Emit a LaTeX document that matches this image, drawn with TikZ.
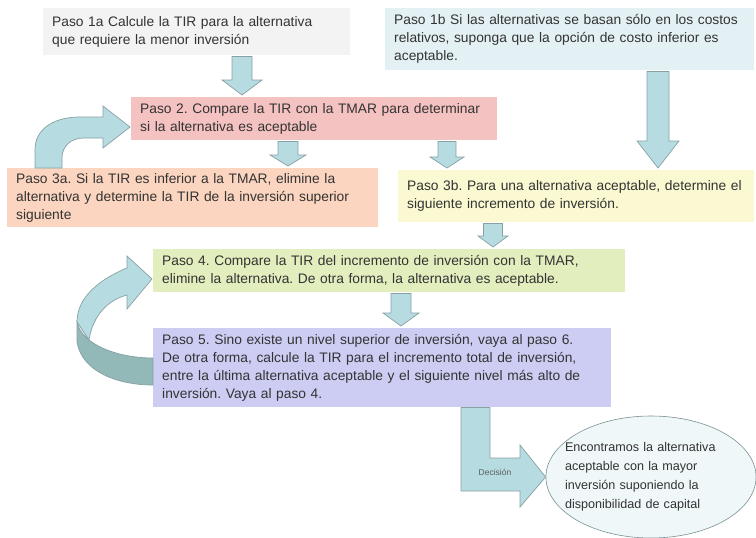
\documentclass[tikz,border=0pt]{standalone}
\usepackage{fontspec}
\setmainfont{Liberation Sans}
\usetikzlibrary{calc,shapes.geometric}
\definecolor{PasoGray}{HTML}{F3F3F3}
\definecolor{PasoBlue}{HTML}{E4F1F4}
\definecolor{PasoPink}{HTML}{F5C2C2}
\definecolor{PasoPeach}{HTML}{FBD5BF}
\definecolor{PasoYellow}{HTML}{FAF9D2}
\definecolor{PasoGreen}{HTML}{E3EEBF}
\definecolor{PasoLilac}{HTML}{CDCDF4}
\definecolor{ArrowFill}{HTML}{B6DCE1}
\definecolor{ArrowLine}{HTML}{86A0A3}
\definecolor{ArrowDark}{HTML}{92B8B8}
\definecolor{TextDark}{HTML}{333333}
\frenchspacing

% block arrow pointing down: x, from, to, half shaft, half head, head length
\newcommand\downblock[6]{%
  \path[blockarrow] let \p1=(#2), \p2=(#3) in
    (#1pt-#4pt,\y1-1pt) -- (#1pt+#4pt,\y1-1pt) -- (#1pt+#4pt,\y2+#6pt+2pt)
    -- (#1pt+#5pt,\y2+#6pt+2pt) -- (#1pt,\y2+2pt) -- (#1pt-#5pt,\y2+#6pt+2pt)
    -- (#1pt-#4pt,\y2+#6pt+2pt) -- cycle;}

\begin{document}
\begin{tikzpicture}[
    x=1pt, y=-1pt,
    stepbox/.style={anchor=north west, inner xsep=9pt, inner ysep=0pt,
                    align=left, text=TextDark,
                    font=\fontsize{13.8}{18}\selectfont},
    resultnode/.style={ellipse, draw=ArrowLine!90!black, fill=PasoBlue!70!ArrowFill!40,
                    line width=0.6pt, minimum width=210pt, minimum height=122pt,
                    inner xsep=-11.7pt, inner ysep=0pt, text width=172pt,
                    align=left, text=TextDark,
                    font=\fontsize{12.6}{19}\selectfont},
    blockarrow/.style={fill=ArrowFill, draw=ArrowLine, line width=0.7pt},
    blockdark/.style={fill=ArrowDark, draw=ArrowLine, line width=0.7pt}
]
\useasboundingbox (0,0) rectangle (756,538);

\node[stepbox, fill=PasoGray, text width=289pt, minimum height=47pt] (s1a) at (43,8)
  {Paso 1a Calcule la TIR para la alternativa\\que requiere la menor inversión};
\node[stepbox, fill=PasoBlue, text width=351pt, minimum height=62pt] (s1b) at (385,8)
  {Paso 1b Si las alternativas se basan sólo en los costos\\relativos, suponga que la opción de costo inferior es\\aceptable.};
\node[stepbox, fill=PasoPink, text width=348pt, minimum height=43pt] (s2) at (131,97)
  {Paso 2. Compare la TIR con la TMAR para determinar\\si la alternativa es aceptable};
\node[stepbox, fill=PasoPeach, text width=353pt, minimum height=59pt] (s3a) at (7,168)
  {Paso 3a. Si la TIR es inferior a la TMAR, elimine la\\alternativa y determine la TIR de la inversión superior\\siguiente};
\node[stepbox, fill=PasoYellow, text width=338pt, minimum height=52pt] (s3b) at (398,170)
  {Paso 3b. Para una alternativa aceptable, determine el\\siguiente incremento de inversión.};
\node[stepbox, fill=PasoGreen, text width=454pt, minimum height=43pt] (s4) at (153,249)
  {Paso 4. Compare la TIR del incremento de inversión con la TMAR,\\elimine la alternativa. De otra forma, la alternativa es aceptable.};
\node[stepbox, fill=PasoLilac, text width=440pt, minimum height=79pt] (s5) at (153,328)
  {Paso 5. Sino existe un nivel superior de inversión, vaya al paso 6.\\De otra forma, calcule la TIR para el incremento total de inversión,\\entre la última alternativa aceptable y el siguiente nivel más alto de\\inversión. Vaya al paso 4.};
\node[resultnode] (res) at (651,477)
  {Encontramos la alternativa\\aceptable con la mayor\\inversión suponiendo la\\disponibilidad de capital};

% straight block arrows
\downblock{242}{s1a.south}{s2.north}{10}{20}{15}
\downblock{288}{s2.south}{s3a.north}{10}{18}{11}
\downblock{447}{s2.south}{s3b.north}{9}{17}{11}
\downblock{658}{s1b.south}{s3b.north}{11}{21}{27}
\downblock{493}{s3b.south}{s4.north}{9.5}{15}{11}
\downblock{401}{s4.south}{s5.north}{10}{18}{13}

% back to paso 2
\path[blockarrow] (35,168) -- (35,150) .. controls (35,128) and (55,117) .. (80,117)
  -- (103,117) -- (103,106) -- (130,127) -- (103,148) -- (103,138) -- (84,138)
  .. controls (71,138) and (62,146) .. (62,158) -- (62,168) -- cycle;

% back to paso 4
\path[blockdark] (153,358) .. controls (118,358) and (82,345) .. (77,322)
  -- (77,342) .. controls (82,372) and (118,385) .. (153,385) -- cycle;
\path[blockarrow] (77,322) .. controls (77,298) and (98,280) .. (127,268)
  -- (127,256) -- (152,279) -- (127,309) -- (127,295)
  .. controls (108,300) and (93,315) .. (89,340) -- cycle;

% decision
\path[blockarrow] let \p1=(s5.south), \p2=(res.west) in
  (461pt,\y1) -- (490pt,\y1) -- (490pt,\y2+19pt) -- (520pt,\y2+19pt)
  -- (520pt,\y2+32pt) -- (\x2,\y2) -- (520pt,\y2-30pt) -- (520pt,\y2-14pt)
  -- (461pt,\y2-14pt) -- cycle;
\node[font=\fontsize{8.5}{10}\selectfont, text=TextDark!80] (dec) at (495,472) {Decisión};
\end{tikzpicture}
\end{document}
